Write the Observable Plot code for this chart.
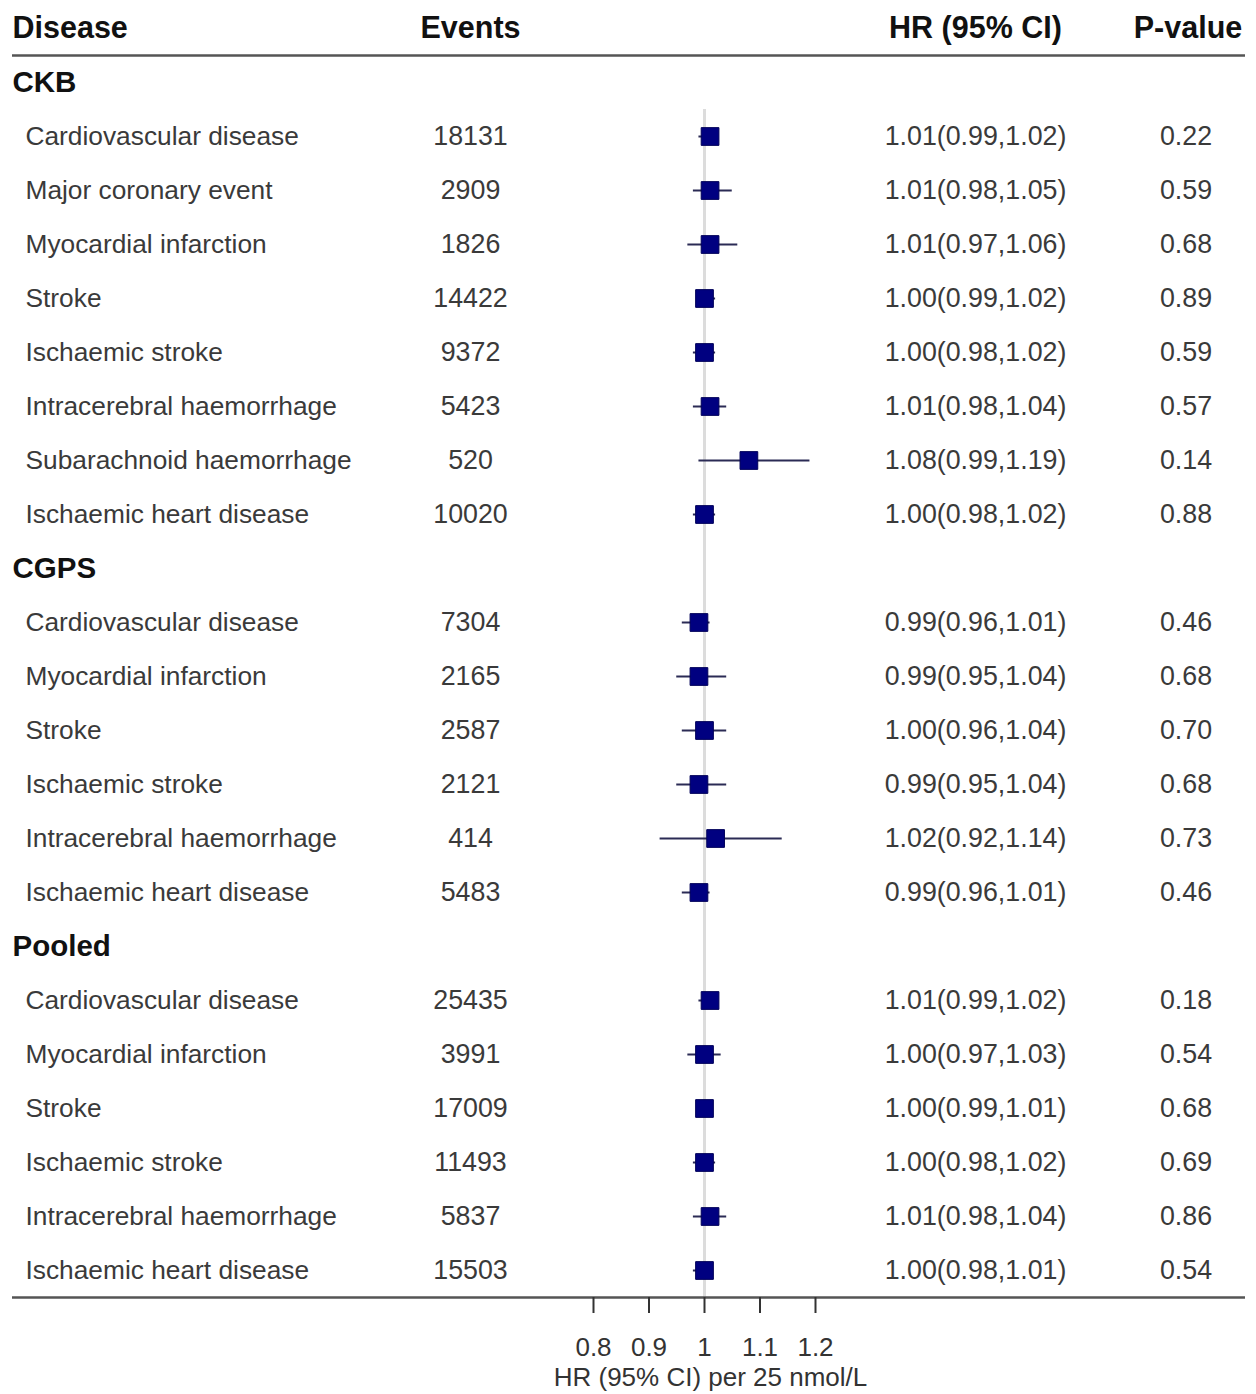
<!DOCTYPE html>
<html><head><meta charset="utf-8">
<script src="https://cdn.jsdelivr.net/npm/d3@7"></script>
<script src="https://cdn.jsdelivr.net/npm/@observablehq/plot@0.6"></script>
<style>
html,body{margin:0;padding:0;background:#fff;}
#chart{display:flex;width:1256px;height:1394px;}
#chart svg{display:block;flex:none;}
</style></head><body><div id="chart"></div>
<script>
// ---- data ----
const groups = ["CKB", "CGPS", "Pooled"];
const groupOf = ["CKB","CKB","CKB","CKB","CKB","CKB","CKB","CKB",
  "CGPS","CGPS","CGPS","CGPS","CGPS","CGPS",
  "Pooled","Pooled","Pooled","Pooled","Pooled","Pooled"];
const diseases = ["Cardiovascular disease","Major coronary event","Myocardial infarction","Stroke","Ischaemic stroke","Intracerebral haemorrhage","Subarachnoid haemorrhage","Ischaemic heart disease",
  "Cardiovascular disease","Myocardial infarction","Stroke","Ischaemic stroke","Intracerebral haemorrhage","Ischaemic heart disease",
  "Cardiovascular disease","Myocardial infarction","Stroke","Ischaemic stroke","Intracerebral haemorrhage","Ischaemic heart disease"];
const events = [18131, 2909, 1826, 14422, 9372, 5423, 520, 10020,
  7304, 2165, 2587, 2121, 414, 5483,
  25435, 3991, 17009, 11493, 5837, 15503];
const hr = [1.01, 1.01, 1.01, 1.00, 1.00, 1.01, 1.08, 1.00,
  0.99, 0.99, 1.00, 0.99, 1.02, 0.99,
  1.01, 1.00, 1.00, 1.00, 1.01, 1.00];
const lo = [0.99, 0.98, 0.97, 0.99, 0.98, 0.98, 0.99, 0.98,
  0.96, 0.95, 0.96, 0.95, 0.92, 0.96,
  0.99, 0.97, 0.99, 0.98, 0.98, 0.98];
const hi = [1.02, 1.05, 1.06, 1.02, 1.02, 1.04, 1.19, 1.02,
  1.01, 1.04, 1.04, 1.04, 1.14, 1.01,
  1.02, 1.03, 1.01, 1.02, 1.04, 1.01];
const pval = [0.22, 0.59, 0.68, 0.89, 0.59, 0.57, 0.14, 0.88,
  0.46, 0.68, 0.70, 0.68, 0.73, 0.46,
  0.18, 0.54, 0.68, 0.69, 0.86, 0.54];
const headers = ["Disease", "Events", "HR (95% CI)", "P-value"];
const xTicks = [0.8, 0.9, 1, 1.1, 1.2];
const xLabel = "HR (95% CI) per 25 nmol/L";

// ---- table rows ----
const rows = [{kind: "header"}];
groups.forEach(g => {
  rows.push({kind: "group", label: g});
  diseases.forEach((d, i) => {
    if (groupOf[i] === g) rows.push({kind: "item", disease: d, events: events[i], hr: hr[i], lo: lo[i], hi: hi[i], p: pval[i],
      ci: `${hr[i].toFixed(2)}(${lo[i].toFixed(2)},${hi[i].toFixed(2)})`, ptxt: pval[i].toFixed(2)});
  });
});
rows.forEach((r, i) => r.id = i);
const items = rows.filter(r => r.kind === "item");
const groupRows = rows.filter(r => r.kind === "group");
const headerRow = rows[0];
const lastRow = rows[rows.length - 1];
const firstItem = items[0];

// ---- styles ----
const FONT = "'Liberation Sans', Arial, sans-serif";
const fsData = 26.8, fsName = 26.3, fsBold = 30.5;
const cData = "#3a3a3a", cBold = "#111";
const lineOpts = {stroke: "#555", strokeWidth: 2.5};
const common = {
  height: 1394, marginTop: 1, marginBottom: 97,
  y: {type: "band", domain: rows.map(r => r.id), padding: 0, axis: null},
  style: {fontFamily: FONT, background: "transparent", overflow: "visible"}
};
const lines = () => [
  Plot.ruleY([headerRow], {y: "id", dy: 27, ...lineOpts}),
  Plot.ruleY([lastRow], {y: "id", dy: 27, ...lineOpts})
];
const headText = (k, extra = {}) => Plot.text([headerRow], {y: "id", text: () => headers[k], fontWeight: "bold", fontSize: fsBold, fill: cBold, ...extra});

// Disease column
const colA = Plot.plot({...common, width: 400, marginLeft: 12, marginRight: 0,
  marks: [
    headText(0, {frameAnchor: "left", textAnchor: "start"}),
    Plot.text(groupRows, {y: "id", text: "label", frameAnchor: "left", textAnchor: "start", fontWeight: "bold", fontSize: fsBold - 1, fill: cBold}),
    Plot.text(items, {y: "id", text: "disease", frameAnchor: "left", textAnchor: "start", dx: 13, fontSize: fsName, fill: cData}),
    ...lines()
  ]});

// Events column
const colB = Plot.plot({...common, width: 140, marginLeft: 0, marginRight: 0,
  marks: [
    headText(1, {frameAnchor: "middle"}),
    Plot.text(items, {y: "id", text: d => String(d.events), frameAnchor: "middle", fontSize: fsData, fill: cData}),
    ...lines()
  ]});

// Forest column
const colC = Plot.plot({...common, width: 340, marginLeft: 0, marginRight: 0,
  x: {domain: [0.8, 1.2], range: [53, 275]},
  marks: [
    Plot.ruleX([1], {x: d => d, y1: () => firstItem.id, y2: () => lastRow.id, stroke: "#dcdcdc", strokeWidth: 3}),
    Plot.ruleY(items, {y: "id", x1: "lo", x2: "hi", stroke: "#2b2b55", strokeWidth: 2}),
    Plot.dot(items, {x: "hr", y: "id", symbol: "square", r: 10, fill: "#000080", stroke: "#00005a", strokeWidth: 1}),
    ...lines(),
    Plot.axisX({ticks: xTicks, tickFormat: d => String(d), tickSize: 16, tickPadding: 24, fontSize: 26,
      stroke: "#333", strokeWidth: 2, fill: "#333", label: xLabel, labelAnchor: "center", labelArrow: "none", labelOffset: 88})
  ]});

// HR column
const colD = Plot.plot({...common, width: 190, marginLeft: 0, marginRight: 0,
  marks: [
    headText(2, {frameAnchor: "middle"}),
    Plot.text(items, {y: "id", text: "ci", frameAnchor: "middle", fontSize: fsData, fill: cData}),
    ...lines()
  ]});

// P-value column
const colE = Plot.plot({...common, width: 186, marginLeft: 0, marginRight: 11,
  marks: [
    headText(3, {frameAnchor: "middle", dx: 30}),
    Plot.text(items, {y: "id", text: "ptxt", frameAnchor: "middle", dx: 28, fontSize: fsData, fill: cData}),
    ...lines()
  ]});

const chart = document.getElementById("chart");
[colA, colB, colC, colD, colE].forEach(p => chart.appendChild(p));
</script>
</body></html>
